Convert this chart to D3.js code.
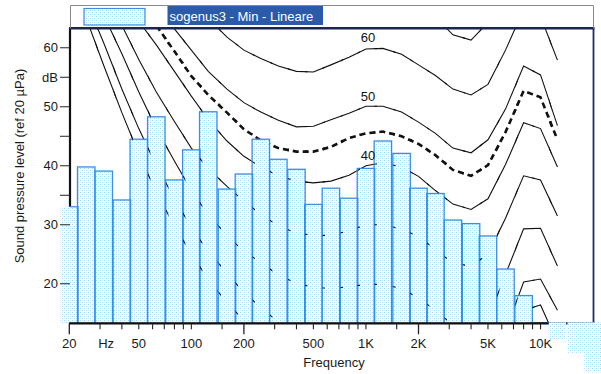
<!DOCTYPE html>
<html>
<head>
<meta charset="utf-8">
<script src="https://cdn.jsdelivr.net/npm/d3@7"></script>
<style>
  html, body { margin: 0; padding: 0; background: #fff; }
  svg { display: block; }
  text { font-family: "Liberation Sans", Arial, sans-serif; }
</style>
</head>
<body>
<svg id="chart" width="601" height="374"></svg>
<script>
// Third-octave band spectrum (dB re 20 µPa)
const bandFreqs = [20, 25, 31.5, 40, 50, 63, 80, 100, 125, 160, 200, 250, 315, 400, 500, 630,
  800, 1000, 1250, 1600, 2000, 2500, 3150, 4000, 5000, 6300, 8000, 10000, 12500, 16000, 20000];
const bandLevels = [33.05, 39.8, 39.1, 34.2, 44.5, 48.3, 37.6, 42.7, 49.15, 36.05, 38.6, 44.5, 41.1, 39.4, 33.45, 36.2,
  34.5, 39.55, 44.2, 42.1, 36.2, 35.3, 30.8, 30.2, 28.1, 22.5, 18.0, 13.4, 10.5, 8.3, 5.0];

// Equal-loudness contours, sampled at third-octave frequencies
const contourFreqs = [20, 25, 31.5, 40, 50, 63, 80, 100, 125, 160, 200, 250, 315, 400, 500, 630,
  800, 1000, 1250, 1600, 2000, 2500, 3150, 4000, 5000, 6300, 8000, 10000, 12500];
const phon70 = [100, 97, 93, 90, 86.5, 83, 80, 77.5, 75, 72, 70, 68.5, 67, 66.2, 66, 67,
  68.3, 70, 70.2, 69.2, 67.3, 65.2, 62.2, 61.3, 64.3, 69.5, 76, 75, 67.5];
const phon60 = [92, 88, 84, 80, 76.5, 73, 70, 67.5, 65, 61.8, 59.6, 58.2, 56.9, 56.0, 55.9, 57.1,
  58.4, 59.8, 59.9, 58.9, 57.1, 55.3, 53.0, 52.0, 53.8, 59.6, 66.5, 65.3, 57.9];
const phon50 = [86, 82, 78, 74, 70.5, 66.8, 63.2, 59.6, 56.0, 53.0, 50.7, 49.1, 47.7, 46.6, 46.7, 47.8,
  48.9, 50.1, 50.1, 49.1, 47.4, 45.5, 43.0, 42.2, 44.4, 49.6, 56.9, 55.4, 46.8];
const minLoudness = [80, 77, 73, 70, 67, 63.8, 59.4, 55.2, 52.0, 49.0, 46.2, 44.3, 43.0, 42.4, 42.4, 43.2,
  44.7, 45.5, 45.8, 45.0, 43.7, 41.8, 39.3, 38.3, 40.1, 45.7, 52.7, 51.6, 44.4];
const phon40 = [78, 74, 71, 67.5, 64.5, 60.5, 56, 51.8, 47.8, 44.2, 41.6, 39.8, 38.3, 37.4, 37.1, 37.4,
  38.4, 40, 40.5, 39.8, 38.2, 35.8, 33.5, 32.6, 34.4, 40.2, 47.3, 46.3, 39.8];
const phon30 = [80, 75, 70, 63.8, 58, 52.5, 47.5, 43, 39.5, 36.5, 34, 31.8, 29.8, 28.6, 28.2, 28.2,
  29, 30, 30, 29.3, 28, 25.8, 23.5, 23, 25, 31.1, 38.3, 37.6, 31.5];
const phon20 = [78, 72, 65.5, 59, 52.5, 46.3, 40.8, 35.8, 31.7, 28.2, 25.5, 23.6, 21.5, 20.1, 19.4, 19.2,
  19.5, 19.9, 19.9, 19.2, 17.6, 15.5, 13, 11.8, 14, 21.6, 29.3, 29.4, 23];
const phon10 = [76, 68, 60.8, 53, 46.3, 40, 34.5, 29.5, 25.5, 21.8, 18.5, 16, 13.5, 12, 11, 10.5,
  10.3, 10, 10, 9.3, 7.8, 5.8, 3.5, 2.8, 5, 12, 20.3, 20.8, 15.5];
const hearingThreshold = [74.3, 65, 57, 49, 42, 35.5, 29.8, 25.1, 20.7, 16.8, 13.8, 11.2, 8.9, 7.2, 6.0, 5.0,
  4.4, 4.2, 3.7, 2.6, 1.0, -1.2, -3.6, -3.9, -1.1, 6.6, 15.5, 16.4, 10];

const solidContours = [phon70, phon60, phon50, phon40, phon30, phon20, phon10, hearingThreshold];
const contourLabels = ["60", "50", "40"];
const contourLabelLevels = [60, 50, 40];
const contourLabelFreq = 1000;

// Axis ticks
const yTickValues = [60, 55, 50, 45, 40, 35, 30, 20];
const yTickLabels = ["60", "dB", "50", "", "40", "", "30", "20"];
const xLabelFreqs = [20, 32.5, 50, 100, 200, 500, 1000, 2000, 5000, 10000];
const xLabelTexts = ["20", "Hz", "50", "100", "200", "500", "1K", "2K", "5K", "10K"];
const xLongTicks = [20, 200, 2000, 20000];
const xShortTicks = [30, 40, 50, 60, 70, 80, 90, 100, 150, 300, 400, 500, 600, 700, 800, 900, 1000, 1500,
  3000, 4000, 5000, 6000, 7000, 8000, 9000, 10000, 15000];

const legendText = "sogenus3 - Min - Lineare";

// ---------------------------------------------------------------
const svg = d3.select("#chart");
const plot = { left: 70, right: 593.5, top: 28.3, bottom: 323.3 };

const x = d3.scaleLog().domain([20, 20000]).range([69.3, 593.1]);
const y = d3.scaleLinear().domain([13.3, 63.3]).range([323.3, 28.3]);
const halfBand = Math.pow(10, 0.05);

const defs = svg.append("defs");
const pat = defs.append("pattern").attr("id", "dots")
  .attr("width", 4).attr("height", 4).attr("patternUnits", "userSpaceOnUse");
pat.append("rect").attr("width", 4).attr("height", 4).attr("fill", "#f8fdff");
pat.append("rect").attr("x", 0).attr("y", 0).attr("width", 1).attr("height", 1).attr("fill", "#9fd8f3");
pat.append("rect").attr("x", 2).attr("y", 2).attr("width", 1).attr("height", 1).attr("fill", "#9fd8f3");
pat.append("rect").attr("x", 2).attr("y", 0).attr("width", 1).attr("height", 1).attr("fill", "#d2eefa");
pat.append("rect").attr("x", 0).attr("y", 2).attr("width", 1).attr("height", 1).attr("fill", "#d2eefa");

defs.append("clipPath").attr("id", "plotClip").append("rect")
  .attr("x", plot.left).attr("y", plot.top)
  .attr("width", plot.right - plot.left).attr("height", plot.bottom - plot.top);

// thin strips just right of each band boundary, where contours show through
const edgeClip = defs.append("clipPath").attr("id", "edgeClip");
bandFreqs.forEach(f => {
  const b = x(f / halfBand);
  edgeClip.append("rect").attr("x", b + 0.4).attr("y", plot.top)
    .attr("width", 2.4).attr("height", plot.bottom - plot.top);
});

svg.append("rect").attr("width", 601).attr("height", 374).attr("fill", "#fff");

const line = d3.line().x(d => x(d[0])).y(d => y(d[1]));
const pts = arr => contourFreqs.map((f, i) => [f, arr[i]]);

function drawContours(g) {
  g.selectAll("path.solid").data(solidContours).join("path")
    .attr("class", "solid")
    .attr("d", d => line(pts(d)))
    .attr("fill", "none").attr("stroke", "#111").attr("stroke-width", 1.1);
  g.append("path").attr("d", line(pts(minLoudness)))
    .attr("fill", "none").attr("stroke", "#111").attr("stroke-width", 2.6)
    .attr("stroke-dasharray", "6,4");
}

// contours (behind the bars)
drawContours(svg.append("g").attr("clip-path", "url(#plotClip)"));

// y axis line (covered by the first band below its top)
svg.append("line").attr("x1", plot.left).attr("x2", plot.left)
  .attr("y1", plot.top).attr("y2", plot.bottom)
  .attr("stroke", "#111").attr("stroke-width", 2.2);

// bars
const bands = bandFreqs.map((f, i) => ({ f, v: bandLevels[i] }));
const base = y.domain()[0];
const upBands = bands.filter(d => d.v >= base);
const downBands = bands.filter(d => d.v < base);

svg.append("g").selectAll("rect").data(upBands).join("rect")
  .attr("x", d => x(d.f / halfBand))
  .attr("width", d => x(d.f * halfBand) - x(d.f / halfBand))
  .attr("y", d => y(d.v))
  .attr("height", d => y(base) - y(d.v))
  .attr("fill", "url(#dots)");

svg.append("g").attr("clip-path", "url(#plotClip)")
  .selectAll("rect").data(upBands).join("rect")
  .attr("x", d => x(d.f / halfBand))
  .attr("width", d => x(d.f * halfBand) - x(d.f / halfBand))
  .attr("y", d => y(d.v))
  .attr("height", d => y(base) - y(d.v))
  .attr("fill", "none").attr("stroke", "#3f8de0").attr("stroke-width", 1.3);

// contour traces seen through the band boundaries
drawContours(svg.append("g").attr("clip-path", "url(#plotClip)")
  .append("g").attr("clip-path", "url(#edgeClip)"));

// contour labels
svg.append("g").selectAll("text").data(contourLabels).join("text")
  .attr("x", x(contourLabelFreq) + 2)
  .attr("y", (d, i) => y(contourLabelLevels[i]) - 6)
  .attr("text-anchor", "middle").attr("font-size", 13).attr("fill", "#111")
  .text(d => d);

// frame
svg.append("line").attr("x1", plot.left - 1).attr("x2", plot.right + 1)
  .attr("y1", plot.top).attr("y2", plot.top)
  .attr("stroke", "#1b2550").attr("stroke-width", 2.4);
svg.append("line").attr("x1", plot.right).attr("x2", plot.right)
  .attr("y1", plot.top).attr("y2", plot.bottom)
  .attr("stroke", "#1d2d6a").attr("stroke-width", 1.8);
svg.append("line").attr("x1", plot.left - 1).attr("x2", plot.right + 1)
  .attr("y1", plot.bottom).attr("y2", plot.bottom)
  .attr("stroke", "#111").attr("stroke-width", 2.2);

// y ticks and labels
const yAxis = svg.append("g");
yAxis.selectAll("line").data(yTickValues).join("line")
  .attr("x1", 60).attr("x2", plot.left)
  .attr("y1", d => y(d)).attr("y2", d => y(d))
  .attr("stroke", "#222").attr("stroke-width", 1);
yAxis.selectAll("text").data(yTickValues).join("text")
  .attr("x", 58).attr("y", d => y(d) + 4.5)
  .attr("text-anchor", "end").attr("font-size", 13).attr("fill", "#1a1a1a")
  .text((d, i) => yTickLabels[i]);

// x ticks and labels
const xAxis = svg.append("g");
xAxis.selectAll("line.long").data(xLongTicks).join("line").attr("class", "long")
  .attr("x1", d => x(d)).attr("x2", d => x(d))
  .attr("y1", plot.bottom).attr("y2", plot.bottom + 11)
  .attr("stroke", "#222").attr("stroke-width", 1.3);
xAxis.selectAll("line.short").data(xShortTicks).join("line").attr("class", "short")
  .attr("x1", d => x(d)).attr("x2", d => x(d))
  .attr("y1", plot.bottom).attr("y2", plot.bottom + 6)
  .attr("stroke", "#222").attr("stroke-width", 1.1);
xAxis.selectAll("text").data(xLabelFreqs).join("text")
  .attr("x", d => x(d)).attr("y", 348)
  .attr("text-anchor", "middle").attr("font-size", 13).attr("fill", "#1a1a1a")
  .text((d, i) => xLabelTexts[i]);

// bands below the axis floor spill downward
svg.append("g").selectAll("rect").data(downBands).join("rect")
  .attr("x", d => x(d.f / halfBand))
  .attr("width", d => x(d.f * halfBand) - x(d.f / halfBand))
  .attr("y", y(base) - 1)
  .attr("height", d => y(d.v) - y(base) + 1)
  .attr("fill", "url(#dots)");

// axis titles
svg.append("text").attr("x", 334).attr("y", 367)
  .attr("text-anchor", "middle").attr("font-size", 13).attr("fill", "#1a1a1a")
  .text("Frequency");
svg.append("text").attr("transform", "translate(24,166) rotate(-90)")
  .attr("text-anchor", "middle").attr("font-size", 13).attr("fill", "#1a1a1a")
  .text("Sound pressure level (ref 20 µPa)");

// legend strip
const lg = svg.append("g");
lg.append("path")
  .attr("d", `M${plot.left + 0.5},${plot.top} V5.5 H${plot.right} V${plot.top}`)
  .attr("fill", "none").attr("stroke", "#8a8a8a").attr("stroke-width", 1);
lg.append("rect").attr("x", 84).attr("y", 8.5).attr("width", 61).attr("height", 16.5)
  .attr("fill", "url(#dots)").attr("stroke", "#3f8de0").attr("stroke-width", 1.2);
lg.append("rect").attr("x", 167.5).attr("y", 6).attr("width", 155.5).attr("height", 19)
  .attr("fill", "#2a5aa8");
lg.append("text").attr("x", 169.5).attr("y", 20.5)
  .attr("font-size", 13).attr("fill", "#fff").text(legendText);
</script>
</body>
</html>
